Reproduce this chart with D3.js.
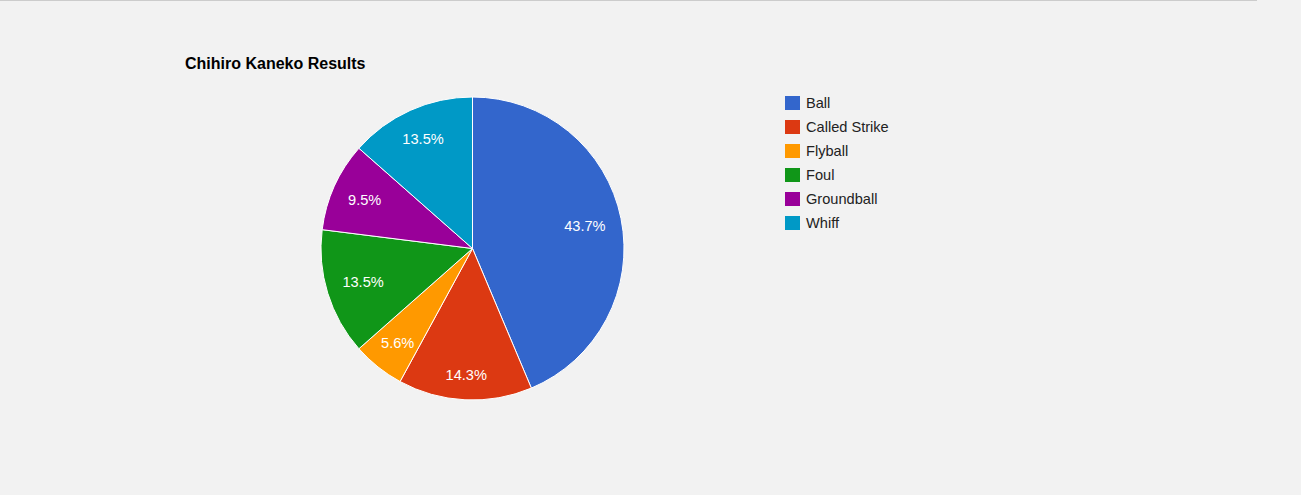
<!DOCTYPE html>
<html>
<head>
<meta charset="utf-8">
<script src="https://cdn.jsdelivr.net/npm/d3@7"></script>
<style>
  html, body { margin: 0; padding: 0; background: #f2f2f2; }
  svg { display: block; }
  text { font-family: "Liberation Sans", Arial, sans-serif; }
</style>
</head>
<body>
<svg id="chart" width="1301" height="495"></svg>
<script>
const title = "Chihiro Kaneko Results";
const categories = ["Ball", "Called Strike", "Flyball", "Foul", "Groundball", "Whiff"];
const counts = [55, 18, 7, 17, 12, 17];
const colors = ["#3366cc", "#dc3912", "#ff9900", "#109618", "#990099", "#0099c6"];

const W = 1301, H = 495;
const svg = d3.select("#chart");
svg.append("rect").attr("width", W).attr("height", H).attr("fill", "#f2f2f2");
svg.append("rect").attr("x", 0).attr("y", 0).attr("width", 1257).attr("height", 1).attr("fill", "#cccccc");

const fs = 14.6;
svg.append("text").attr("x", 185).attr("y", 69)
  .attr("font-size", 16).attr("font-weight", "bold").attr("fill", "#000").text(title);

const cx = 472.5, cy = 248.5, R = 151.5;
const total = d3.sum(counts);
const data = categories.map((c, i) => ({ name: c, value: counts[i], color: colors[i] }));
const pie = d3.pie().value(d => d.value).sort(null);
const arcs = pie(data);
const arc = d3.arc().innerRadius(0).outerRadius(R);

const g = svg.append("g").attr("transform", `translate(${cx},${cy})`);
g.selectAll("path").data(arcs).join("path")
  .attr("d", arc).attr("fill", d => d.data.color)
  .attr("stroke", "#ffffff").attr("stroke-width", 1);

const fmt = v => (v / total * 100).toFixed(1) + "%";
const D = 136.5, h = 15;
arcs.forEach(a => {
  const mid = (a.startAngle + a.endAngle) / 2;
  const ux = Math.sin(mid), uy = -Math.cos(mid);
  const t = g.append("text").attr("font-size", fs).attr("fill", "#ffffff")
    .attr("text-anchor", "middle").text(fmt(a.data.value));
  const w = t.node().getComputedTextLength();
  const b = Math.abs(ux) * w / 2 + Math.abs(uy) * h / 2;
  const c = (w * w + h * h) / 4 - D * D;
  const d = -b + Math.sqrt(b * b - c);
  t.attr("x", d * ux).attr("y", d * uy + 5.2);
});

const leg = svg.append("g").attr("transform", "translate(785,96)");
data.forEach((d, i) => {
  const row = leg.append("g").attr("transform", `translate(0,${i * 24})`);
  row.append("rect").attr("width", 15).attr("height", 14).attr("fill", d.color);
  row.append("text").attr("x", 21).attr("y", 12.3).attr("font-size", fs)
    .attr("fill", "#222222").text(d.name);
});
</script>
</body>
</html>
